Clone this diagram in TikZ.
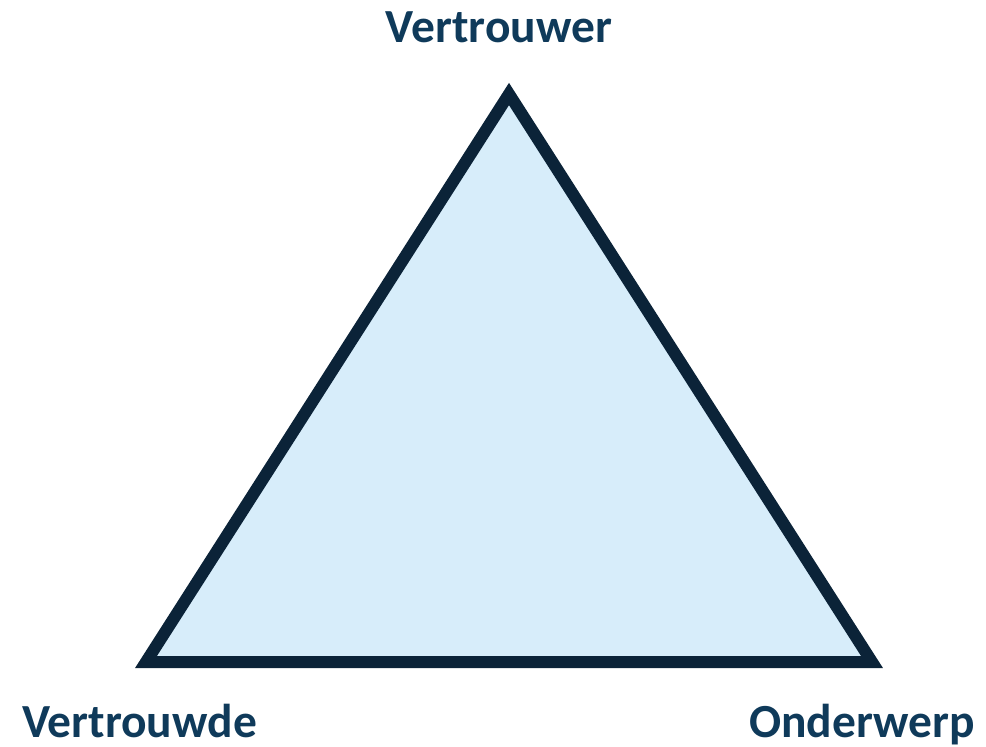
\documentclass[tikz,border=0pt]{standalone}
\usepackage{fontspec}
\setmainfont{Carlito}
\usepackage{xcolor}
\usetikzlibrary{positioning}
\definecolor{trustline}{HTML}{0B2338}
\definecolor{trustfill}{HTML}{D7EDFA}
\definecolor{trusttext}{HTML}{0F3A5A}
\tikzset{
x=1pt, y=-1pt, % one unit per pixel of the picture
corner/.style={font=\fontsize{47.5}{52}\selectfont\bfseries, text=trusttext, inner sep=0pt, anchor=base}, % labels at the corners
side/.style={draw=trustline, line width=12pt, fill=trustfill, line join=miter}, % the triangle
}

\begin{document}
\begin{tikzpicture}
\useasboundingbox (0,0) rectangle (986,747);
\coordinate (top) at (509,94);
\coordinate (left) at (146,662);
\coordinate (right) at (872,662);
\draw[side] (top) -- (left) -- (right) -- cycle;
\node[corner] (trustor) at (499,42) {Vertrouwer};
\node[corner, anchor=base west] (trustee) at (22,737) {Vertrouwde};
\node[corner, anchor=base east] (subject) at (975,737) {Onderwerp};
\end{tikzpicture}
\end{document}
